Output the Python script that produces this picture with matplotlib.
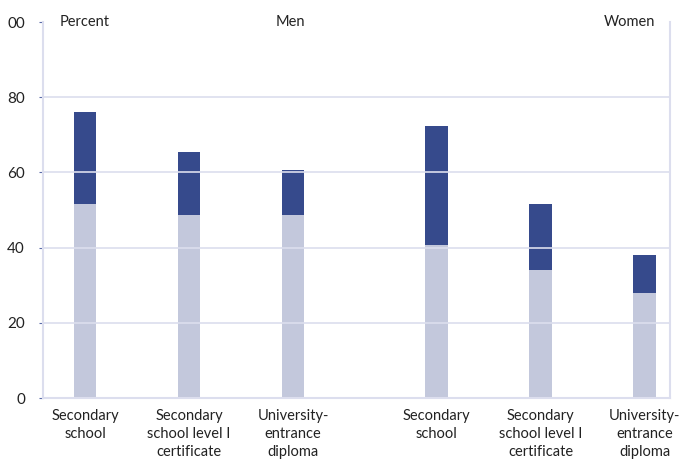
import matplotlib.pyplot as plt

# data
categories = ["Secondary\nschool", "Secondary\nschool level I\ncertificate", "University-\nentrance\ndiploma",
              "Secondary\nschool", "Secondary\nschool level I\ncertificate", "University-\nentrance\ndiploma"]
base_vals = [51.6, 48.7, 48.7, 40.7, 34.0, 27.9]
total_vals = [76.1, 65.4, 60.6, 72.3, 51.6, 38.0]
top_vals = [t - b for t, b in zip(total_vals, base_vals)]
y_ticks = [0, 20, 40, 60, 80, 100]
y_ticklabels = ["0", "20", "40", "60", "80", "00"]

xpos = [0, 1, 2, 3.38, 4.38, 5.38]
light = "#c3c8dc"
dark = "#364a8c"
grid_c = "#dcdeee"

plt.rcParams["font.family"] = ["Lato", "DejaVu Sans"]

fig = plt.figure(figsize=(6.83, 4.63), dpi=100)
ax = fig.add_axes([43 / 683, 65 / 463, 627 / 683, 376 / 463])

ax.bar(xpos, base_vals, width=0.22, color=light, zorder=1)
ax.bar(xpos, top_vals, bottom=base_vals, width=0.22, color=dark, zorder=1)

ax.set_xlim(-0.404, 5.625)
ax.set_ylim(0, 100)
ax.set_yticks(y_ticks)
ax.set_yticklabels(y_ticklabels, fontsize=11, color="#222222")
ax.set_xticks(xpos)
ax.set_xticklabels(categories, fontsize=10.5, color="#222222", linespacing=1.38)
ax.tick_params(axis="x", length=0, pad=8)
ax.tick_params(axis="y", length=3, color="#5a6aa8", pad=10)

for v in [20, 40, 60, 80]:
    ax.axhline(v, color=grid_c, lw=1.2, zorder=2)

for s in ["left", "bottom", "right"]:
    ax.spines[s].set_color(grid_c)
    ax.spines[s].set_linewidth(1.5)
ax.spines["top"].set_visible(False)

ax.text(0.027, 1.0, "Percent", transform=ax.transAxes, fontsize=10.5, va="center", ha="left", color="#222222")
ax.text(0.394, 1.0, "Men", transform=ax.transAxes, fontsize=10.5, va="center", ha="center", color="#222222")
ax.text(0.976, 1.0, "Women", transform=ax.transAxes, fontsize=10.5, va="center", ha="right", color="#222222")

plt.savefig("out.png", dpi=100)
